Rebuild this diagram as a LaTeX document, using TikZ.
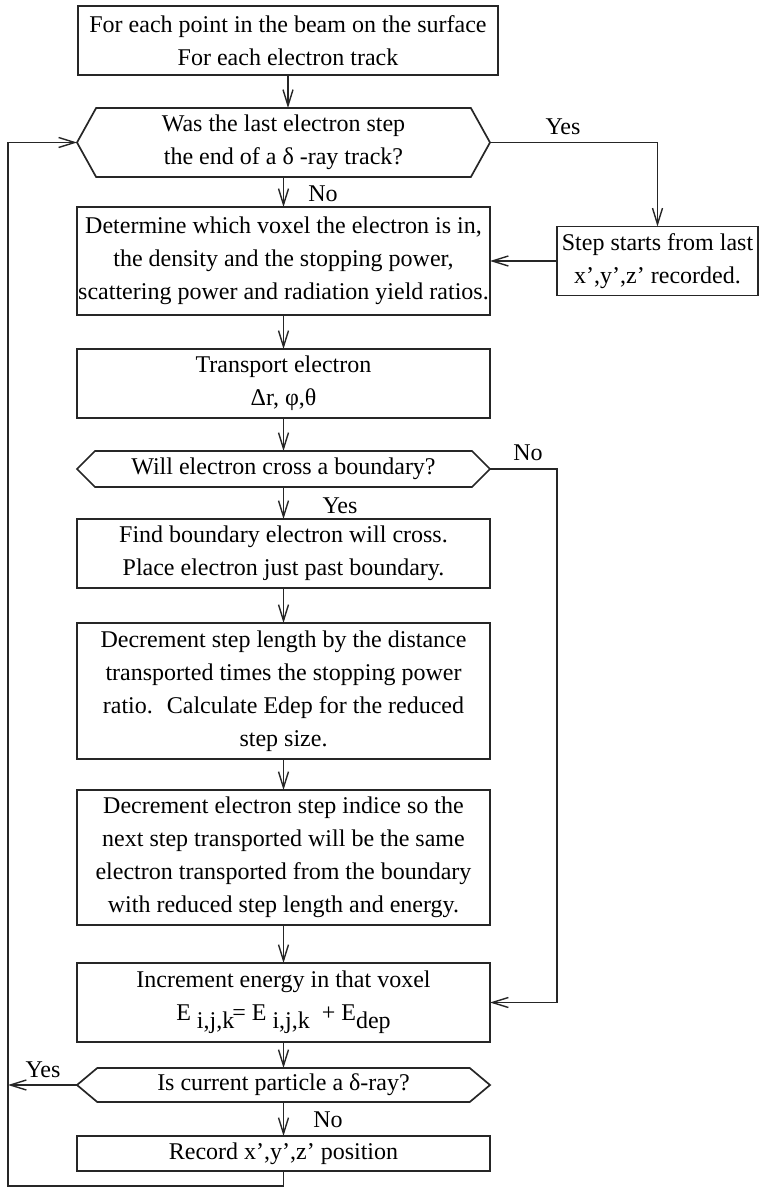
\documentclass[tikz,border=0pt]{standalone}
\usepackage{fontspec}
\setmainfont{Liberation Serif}
\usetikzlibrary{arrows.meta,positioning,shapes.symbols}

\begin{document}
\begin{tikzpicture}[
  x=0.5pt, y=-0.5pt,
  font=\fontsize{12}{16.5}\selectfont, >={Straight Barb[length=8pt,width=5pt]},
  b/.style={draw=black!85, line width=0.85pt, align=center, inner sep=0pt,
            outer sep=0pt, minimum width=206.5pt},
  box/.style={b, rectangle},
  ask/.style={b, signal, signal to=east and west},
  a/.style={->, line width=0.7pt, draw=black!85},
  lbl/.style={inner sep=0pt},
]
\useasboundingbox (0,0) rectangle (760,1187);
\node[box, minimum width=210pt, minimum height=34.5pt] (start) at (288,40.5)
  {For each point in the beam on the surface\\For each electron track};
\node[ask, minimum height=34.5pt, signal pointer angle=122] (lastdelta) at (283.5,142.5)
  {Was the last electron step\\the end of a δ -ray track?};
\node[box, minimum height=54pt, below=15pt of lastdelta] (voxel)
  {Determine which voxel the electron is in,\\the density and the stopping power,\\scattering power and radiation yield ratios.};
\node[box, right=33.5pt of voxel, minimum width=100.5pt, minimum height=34.5pt] (resume)
  {Step starts from last\\x’,y’,z’ recorded.};
\node[box, minimum height=34.5pt, below=17pt of voxel] (transport)
  {Transport electron\\Δr, φ,θ};
\node[ask, minimum height=18pt, signal pointer angle=90, below=16.5pt of transport] (cross)
  {Will electron cross a boundary?};
\node[box, minimum height=34.5pt, below=16pt of cross] (boundary)
  {Find boundary electron will cross.\\Place electron just past boundary.};
\node[box, minimum height=68pt, below=17.5pt of boundary] (shorten)
  {Decrement step length by the distance\\transported times the stopping power\\ratio.~ Calculate Edep for the reduced\\step size.};
\node[box, minimum height=67.5pt, below=15.5pt of shorten] (reindex)
  {Decrement electron step indice so the\\next step transported will be the same\\electron transported from the boundary\\with reduced step length and energy.};
\node[box, minimum height=39.5pt, below=19pt of reindex] (deposit)
  {Increment energy in that voxel\\E\ \raisebox{-4pt}{i,j,k}\kern-1pt= E\ \raisebox{-4pt}{i,j,k}\ \ +\ E\raisebox{-4pt}{dep}};
\node[ask, minimum height=17pt, signal pointer angle=80, below=13pt of deposit] (isdelta)
  {Is current particle a δ-ray?};
\node[box, minimum height=17.5pt, below=17pt of isdelta] (record)
  {Record x’,y’,z’ position};
\coordinate (rail) at (557,469);
\coordinate (loop) at (8,1186);
% answers on the branches
\node[lbl] (yes1) at (563,127) {Yes};
\node[lbl] (no1) at (323,194) {No};
\node[lbl] (yes2) at (340,506) {Yes};
\node[lbl] (no2) at (528,453) {No};
\node[lbl] (yes3) at (43,1070) {Yes};
\node[lbl] (no3) at (328,1120) {No};
\draw[a] (start.south) -- (start.south |- lastdelta.north);
\draw[a] (lastdelta.south) -- (voxel.north);
\draw[a] (lastdelta.east) -| (resume.north);
\draw[a] (resume.west) -- (resume.west -| voxel.east);
\draw[a] (voxel.south) -- (transport.north);
\draw[a] (transport.south) -- (cross.north);
\draw[a] (cross.south) -- (boundary.north);
\draw[a] (cross.east) -- (cross.east -| rail) |- (deposit.east);
\draw[a] (boundary.south) -- (shorten.north);
\draw[a] (shorten.south) -- (reindex.north);
\draw[a] (reindex.south) -- (deposit.north);
\draw[a] (deposit.south) -- (isdelta.north);
\draw[a] (isdelta.west) -- (isdelta.west -| loop);
\draw[a] (isdelta.south) -- (record.north);
\draw[a] (record.south) |- (loop) |- (lastdelta.west);
\end{tikzpicture}
\end{document}
